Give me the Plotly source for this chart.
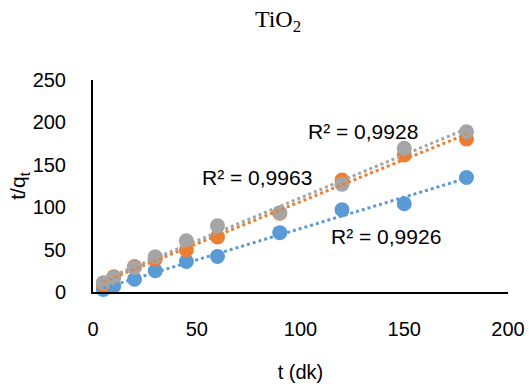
import numpy as np
import plotly.graph_objects as go

time_min = [5, 10, 20, 30, 45, 60, 90, 120, 150, 180]
blue_vals = [3, 7, 15, 25, 36, 42, 70, 97, 104, 135]
orange_vals = [9, 18, 30, 39, 49.5, 65, 93, 132, 161.5, 180.5]
gray_vals = [11, 17, 29, 41.5, 60.5, 78, 93.5, 127, 169.5, 189]

series_colors = ["#5B9BD5", "#ED7D31", "#A5A5A5"]
r2_labels = ["R² = 0,9926", "R² = 0,9963", "R² = 0,9928"]
# label anchor positions in data coordinates
r2_x = [141, 79, 130]
r2_y = [66, 135.5, 189]

x_ticks = [0, 50, 100, 150, 200]
y_ticks = [0, 50, 100, 150, 200, 250]

font_fam = "Liberation Sans, Arial, sans-serif"

fig = go.Figure()
all_series = [blue_vals, orange_vals, gray_vals]

for vals, col in zip(all_series, series_colors):
    fig.add_trace(go.Scatter(x=time_min, y=vals, mode="markers",
                             marker=dict(color=col, size=15, line=dict(width=0)),
                             showlegend=False, cliponaxis=False))

for vals, col in zip(all_series, series_colors):
    k, b = np.polyfit(time_min, vals, 1)
    xs = np.array([time_min[0], time_min[-1]])
    fig.add_trace(go.Scatter(x=xs, y=k * xs + b, mode="lines",
                             line=dict(color=col, width=3, dash="dot"),
                             showlegend=False, cliponaxis=False))

for lbl, ax_, ay_ in zip(r2_labels, r2_x, r2_y):
    fig.add_annotation(x=ax_, y=ay_, text=lbl, showarrow=False,
                       font=dict(family=font_fam, size=21, color="#000000"))

fig.update_layout(
    width=529, height=392,
    margin=dict(l=93, r=21, t=80, b=100, autoexpand=False),
    paper_bgcolor="white", plot_bgcolor="white",
    title=dict(text="TiO<sub>2</sub>", x=0.5255, xanchor="center", y=0.9515, yanchor="middle",
               font=dict(family="Liberation Serif, Times New Roman, serif", size=24, color="#000")),
    font=dict(family=font_fam, size=20, color="#000"),
    xaxis=dict(range=[0, 200], tickvals=x_ticks, showgrid=False, zeroline=False,
               showline=True, linecolor="#000", linewidth=2, ticks="",
               ticklabelstandoff=18, automargin=False,
               title=dict(text="t (dk)", standoff=26, font=dict(size=20))),
    yaxis=dict(range=[0, 250], tickvals=y_ticks, showgrid=False, zeroline=False,
               showline=True, linecolor="#000", linewidth=2, ticks="",
               ticklabelstandoff=21, automargin=False,
               title=dict(text="t/q<sub>t</sub>", standoff=0, font=dict(size=21))),
)

# remove the default page margin so the figure fills the window exactly
fig.write_html("out.html",
               config={"displayModeBar": False},
               post_script="document.body.style.margin='0';"
                           "document.documentElement.style.overflow='hidden';")
